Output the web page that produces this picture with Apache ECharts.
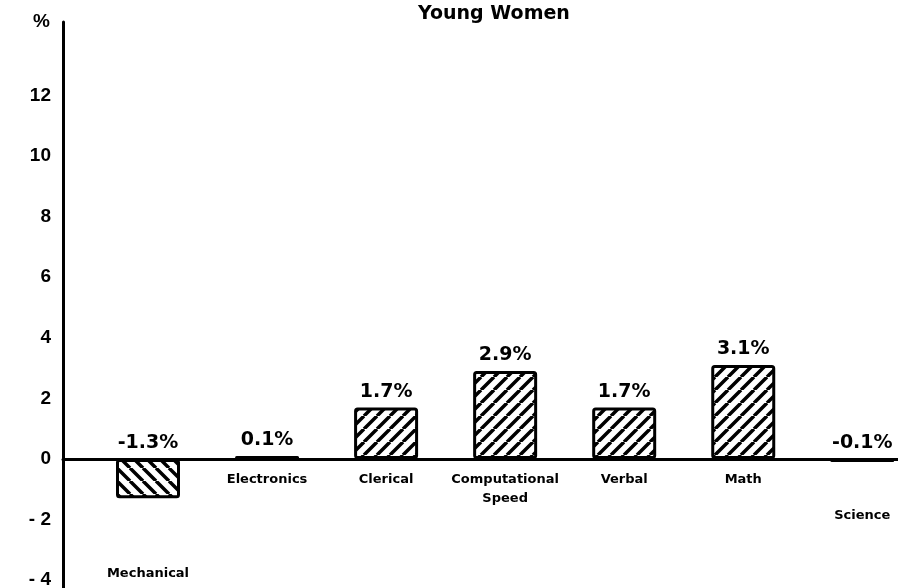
<!DOCTYPE html>
<html>
<head>
<meta charset="utf-8">
<script src="https://cdn.jsdelivr.net/npm/echarts@6/dist/echarts.min.js"></script>
<style>
  html, body { margin: 0; padding: 0; background: #fff; }
  #chart { width: 898px; height: 588px; }
</style>
</head>
<body>
<div id="chart"></div>
<script>
// data
var categories = ['Mechanical', 'Electronics', 'Clerical', 'Computational Speed', 'Verbal', 'Math', 'Science']
var values = [-1.3, 0.1, 1.7, 2.9, 1.7, 3.1, -0.1]
var yTicks = [-4, -2, 0, 2, 4, 6, 8, 10, 12]
var catTicks = [0, 1, 2, 3, 4, 5, 6]

// hatch direction per bar (style, not data)
var backHatch = ['Mechanical']

function hatch(back) {
  var s = 13
  var c = document.createElement('canvas')
  c.width = s
  c.height = s
  var g = c.getContext('2d')
  g.fillStyle = '#fff'
  g.fillRect(0, 0, s, s)
  g.strokeStyle = '#000'
  g.lineWidth = 3.5
  g.beginPath()
  for (var k = -1; k <= 1; k++) {
    if (back) {
      g.moveTo(k * s, 0)
      g.lineTo(k * s + s, s)
    } else {
      g.moveTo(k * s, s)
      g.lineTo(k * s + s, 0)
    }
  }
  g.stroke()
  return { image: c, repeat: 'repeat' }
}

var fwd = hatch(false)
var back = hatch(true)

// label rich style keys per category (vertical placement under the axis)
var labelKey = {
  'Mechanical': 'm',
  'Science': 's'
}

var gridTop = 22
var gridBottom = 0
var yMin = -4.26
var yMax = 14.42
var plotH = 588 - gridTop - gridBottom
// move the x axis (line and labels) up to the zero line
var zeroOffset = -plotH * (0 - yMin) / (yMax - yMin)

var chart = echarts.init(document.getElementById('chart'), null, { renderer: 'canvas' })

var catFont = { fontFamily: 'DejaVu Sans', fontWeight: 'bold', fontSize: 13, color: '#000' }

chart.setOption({
  animation: false,
  backgroundColor: '#fff',
  title: {
    text: 'Young Women',
    left: 413,
    top: 0,
    textStyle: { fontFamily: 'DejaVu Sans', fontWeight: 'bold', fontSize: 19, color: '#000' }
  },
  grid: { left: 63, right: 0, top: gridTop, bottom: gridBottom, outerBoundsMode: 'none', containLabel: false },
  xAxis: {
    type: 'value',
    min: -0.714,
    max: 6.3,
    offset: zeroOffset,
    axisLine: { show: true, onZero: false, lineStyle: { color: '#000', width: 3 } },
    axisTick: { show: false },
    splitLine: { show: false },
    axisLabel: {
      customValues: catTicks,
      margin: 8,
      formatter: function (v) {
        var name = categories[v]
        var key = labelKey[name] || 'n'
        return name.split(' ').map(function (w) { return '{' + key + '|' + w + '}' }).join('\n')
      },
      rich: {
        n: Object.assign({ lineHeight: 19, padding: [6, 0, 0, 0] }, catFont),
        s: Object.assign({ lineHeight: 19, padding: [78, 0, 0, 0] }, catFont),
        m: Object.assign({ lineHeight: 19, padding: [194, 0, 0, 0] }, catFont)
      }
    }
  },
  yAxis: {
    type: 'value',
    min: yMin,
    max: yMax,
    name: '%',
    nameLocation: 'end',
    nameGap: 0,
    nameTextStyle: {
      fontFamily: 'Liberation Sans', fontWeight: 'bold', fontSize: 19, color: '#000',
      align: 'right', verticalAlign: 'middle', padding: [0, 13, 6, 0]
    },
    axisLine: { show: true, onZero: false, lineStyle: { color: '#000', width: 3 } },
    axisTick: { show: false },
    splitLine: { show: false },
    axisLabel: {
      customValues: yTicks,
      margin: 12,
      fontFamily: 'Liberation Sans',
      fontWeight: 'bold',
      fontSize: 19,
      color: '#000',
      formatter: function (v) { return v < 0 ? '- ' + (-v) : String(v) }
    }
  },
  series: [{
    type: 'bar',
    barWidth: 64,
    data: values.map(function (v, i) {
      return {
        value: [i, v],
        itemStyle: { color: backHatch.indexOf(categories[i]) >= 0 ? back : fwd }
      }
    }),
    itemStyle: { borderColor: '#000', borderWidth: 3, borderRadius: 2 },
    label: {
      show: true,
      position: 'top',
      distance: 6,
      fontFamily: 'DejaVu Sans',
      fontWeight: 'bold',
      fontSize: 19,
      color: '#000',
      formatter: function (p) { return p.value[1].toFixed(1) + '%' }
    }
  }]
})
</script>
</body>
</html>
